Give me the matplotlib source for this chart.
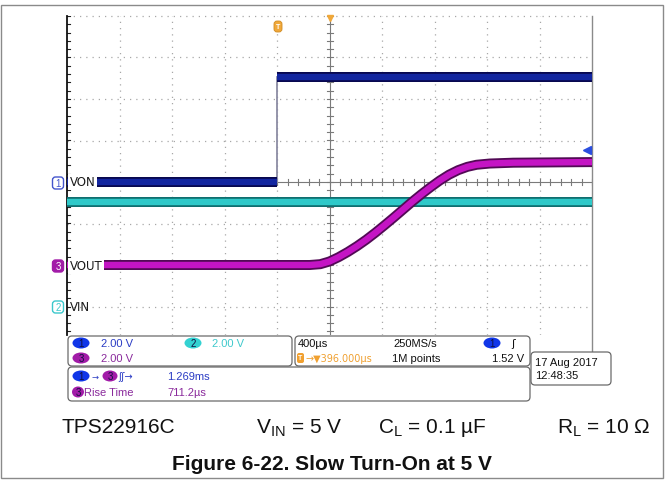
import numpy as np
import matplotlib
matplotlib.use("Agg")
import matplotlib.pyplot as plt
import matplotlib.patheffects as pe
from matplotlib.patches import FancyBboxPatch, Ellipse, Rectangle

plt.rcParams["font.family"] = ["Liberation Sans", "DejaVu Sans"]
plt.rcParams["mathtext.default"] = "regular"

# scope settings
t_per_div = 400.0           # us/div
v_per_div = 2.0             # V/div
t_min, t_max = -1600, 2400  # us, trigger at t = 0

# ground offsets of the channels (divisions from screen centre)
off_von, off_vin, off_vout = 0.0, -3.0, -2.0

# ch1 VON
von_t = [-1600, 0, 0, 2400]
von_v = [0.0, 0.0, 5.05, 5.05]

# ch2 VIN
vin_t = [-1600, 2400]
vin_v = [5.03, 5.03]

# ch3 VOUT
vout_t = [-1600, 250, 330, 400, 470, 540, 610, 680, 750, 820, 890, 960, 1030, 1100,
          1170, 1240, 1310, 1380, 1450, 1520, 1620, 1800, 2400]
vout_v = [0.0, 0.0, 0.04, 0.17, 0.38, 0.63, 0.91, 1.22, 1.56, 1.92, 2.29, 2.67, 3.05, 3.41,
          3.75, 4.07, 4.35, 4.57, 4.73, 4.83, 4.89, 4.93, 4.96]

trig_level = 1.52  # V on ch1

W, H = 666, 481
fig = plt.figure(figsize=(W / 100, H / 100), dpi=100)


def fx(px):
    return px / W


def fy(py):
    return 1 - py / H


ax = fig.add_axes([fx(67), fy(336), fx(592) - fx(67), fy(17) - fy(336)])
y_lo = -(336 - 183) / 41.5
ax.set_xlim(t_min, t_max)
ax.set_ylim(y_lo, 4)
ax.axis("off")

# graticule
grid_c = "#a8a8a8"
for k in range(1, 10):
    if k != 5:
        ax.axvline(t_min + k * t_per_div, color=grid_c, lw=0.9, ls=(0, (1, 4)), zorder=1)
for k in [-3, -2, -1, 1, 2, 3, 4]:
    ax.axhline(k, color=grid_c, lw=0.9, ls=(0, (1, 4)), zorder=1, clip_on=False)

t_mid = t_min + 5 * t_per_div
ax.axvline(t_mid, color="#7a7a7a", lw=0.8, zorder=1)
ax.axhline(0, color="#7a7a7a", lw=0.8, zorder=1)
tx = 3 / 52.5 * t_per_div
ty = 3 / 41.5
for t in np.arange(t_min, t_max + 1, t_per_div / 5):
    ax.plot([t, t], [-ty, ty], color="#7a7a7a", lw=0.8, zorder=1)
for y in np.arange(-3.6, 4.01, 0.2):
    ax.plot([t_mid - tx, t_mid + tx], [y, y], color="#7a7a7a", lw=0.8, zorder=1)
    ax.plot([t_min, t_min + tx], [y, y], color="#222222", lw=0.8, zorder=1)

ax.plot([t_min, t_min], [y_lo, 4], color="#111111", lw=1.3, zorder=2, clip_on=False)
ax.plot([t_max, t_max], [-(352 - 183) / 41.5, 4], color="#8a8a8a", lw=1.0, zorder=2, clip_on=False)


def trace(t, v, off, core, edge):
    y = np.asarray(v) / v_per_div + off
    ax.plot(t, y, color=core, lw=4.6, solid_capstyle="butt", solid_joinstyle="round", zorder=3,
            path_effects=[pe.Stroke(linewidth=7.2, foreground=edge), pe.Normal()])


# VIN
trace(vin_t, vin_v, off_vin, "#2fc9c9", "#0f6f70")
# VOUT
trace(vout_t, vout_v, off_vout, "#c414c4", "#520a55")
# VON : thin edge + thick levels
von_y = np.asarray(von_v) / v_per_div + off_von
ax.plot(von_t[1:3], von_y[1:3], color="#8c8ca4", lw=1.3, zorder=3)
trace(von_t[:2], von_v[:2], off_von, "#1326a0", "#08084f")
trace(von_t[2:], von_v[2:], off_von, "#1326a0", "#08084f")

# trigger level marker
ax.plot([t_max - 40], [trig_level / v_per_div + off_von], marker="<", ms=6,
        color="#2a4ee0", clip_on=False, zorder=4)

# overlay in pixel coordinates
ov = fig.add_axes([0, 0, 1, 1], zorder=5)
ov.set_xlim(0, W)
ov.set_ylim(H, 0)
ov.axis("off")
ov.patch.set_alpha(0)

ov.add_patch(Rectangle((1, 6), 662, 473, fill=False, ec="#8a8a8a", lw=1.0))

# trigger position / centre markers
ov.add_patch(FancyBboxPatch((274, 22), 8, 11, boxstyle="round,pad=0,rounding_size=3",
                            fc="#f0a83a", ec="#d08a20", lw=0.6))
ov.text(278, 27.5, "T", ha="center", va="center", fontsize=5, color="white", fontweight="bold")
ov.plot([330], [19], marker="v", ms=5, color="#f0a83a")


def chan_tag(cx, cy, num, fill, edge, tcol):
    ov.add_patch(FancyBboxPatch((cx - 5.5, cy - 6), 11, 12, boxstyle="round,pad=0,rounding_size=3",
                                fc=fill, ec=edge, lw=1.0))
    ov.text(cx, cy, num, ha="center", va="center", fontsize=7, color=tcol)


chan_tag(58, 184, "1", "white", "#4455cc", "#4455cc")
chan_tag(58, 267, "3", "#a21ca8", "#a21ca8", "white")
chan_tag(58, 308, "2", "white", "#3cc8cc", "#3cc8cc")

lbl = dict(ha="left", va="center", fontsize=8.5, color="#1a1a1a", family="DejaVu Sans")
ov.text(70, 183, "VON", bbox=dict(fc="white", ec="none", pad=1.2), **lbl)
ov.text(70, 267, "VOUT", bbox=dict(fc="white", ec="none", pad=1.2), **lbl)
ov.text(70, 308, "VIN", **lbl)


def panel(x, y, w, h):
    ov.add_patch(FancyBboxPatch((x, y), w, h, boxstyle="round,pad=0,rounding_size=4",
                                fc="white", ec="#6a6a6a", lw=0.9))


def oval(cx, cy, num, fill, tcol="#101040", w=17, h=11):
    ov.add_patch(Ellipse((cx, cy), w, h, fc=fill, ec="none"))
    ov.text(cx, cy, num, ha="center", va="center", fontsize=7, color=tcol)


panel(68, 337, 224, 30)
panel(295, 337, 235, 30)
panel(68, 368, 462, 34)
panel(531, 353, 80, 33)

c1, c2, c3, c_or = "#2b3cc4", "#3fc9cc", "#8a2a9c", "#f0a030"
st = dict(ha="left", va="center", fontsize=8)

oval(81, 344, "1", "#1036e8")
ov.text(101, 344, "2.00 V", color=c1, **st)
oval(193, 344, "2", "#33d2d2")
ov.text(212, 344, "2.00 V", color=c2, **st)
oval(81, 359, "3", "#a21ca8")
ov.text(101, 359, "2.00 V", color=c3, **st)

ov.text(298, 344, "400µs", color="#111111", **st)
ov.text(393, 344, "250MS/s", color="#111111", **st)
oval(492, 344, "1", "#1036e8")
ov.text(511, 344, "ʃ", color="#111111", family="DejaVu Sans", ha="left", va="center", fontsize=8)
ov.add_patch(FancyBboxPatch((297, 354), 7, 10, boxstyle="round,pad=0,rounding_size=2",
                            fc=c_or, ec="none"))
ov.text(300.5, 359, "T", ha="center", va="center", fontsize=5, color="white", fontweight="bold")
ov.text(305, 359, "→▼396.000µs", color=c_or, family="DejaVu Sans", ha="left", va="center", fontsize=7)
ov.text(392, 359, "1M points", color="#111111", **st)
ov.text(524, 359, "1.52 V", color="#111111", ha="right", va="center", fontsize=8)

ov.text(535, 363, "17 Aug 2017", color="#111111", **st)
ov.text(535, 376, "12:48:35", color="#111111", **st)

oval(81, 377, "1", "#1036e8")
ov.text(92, 377, "→", color=c1, family="DejaVu Sans", ha="left", va="center", fontsize=6)
oval(110, 377, "3", "#a21ca8", w=15)
ov.text(118, 377, "ʃʃ→", color=c1, family="DejaVu Sans", ha="left", va="center", fontsize=7)
ov.text(167, 377, "1.269ms", color=c1, **st)
oval(78, 393, "3", "#a21ca8", w=12)
ov.text(84, 393, "Rise Time", color=c3, **st)
ov.text(167, 393, "711.2µs", color=c3, **st)

# caption
cap = dict(va="center", ha="left", fontsize=15, color="#111111")
ov.text(62, 428, "TPS22916C", **cap)
ov.text(256, 428, r"V$_{IN}$ = 5 V", **cap)
ov.text(378, 428, r"C$_{L}$ = 0.1 µF", **cap)
ov.text(557, 428, r"R$_{L}$ = 10 Ω", **cap)
ov.text(332, 465, "Figure 6-22. Slow Turn-On at 5 V", ha="center", va="center",
        fontsize=15, fontweight="bold", color="#111111")

fig.savefig("out.png", dpi=100)
